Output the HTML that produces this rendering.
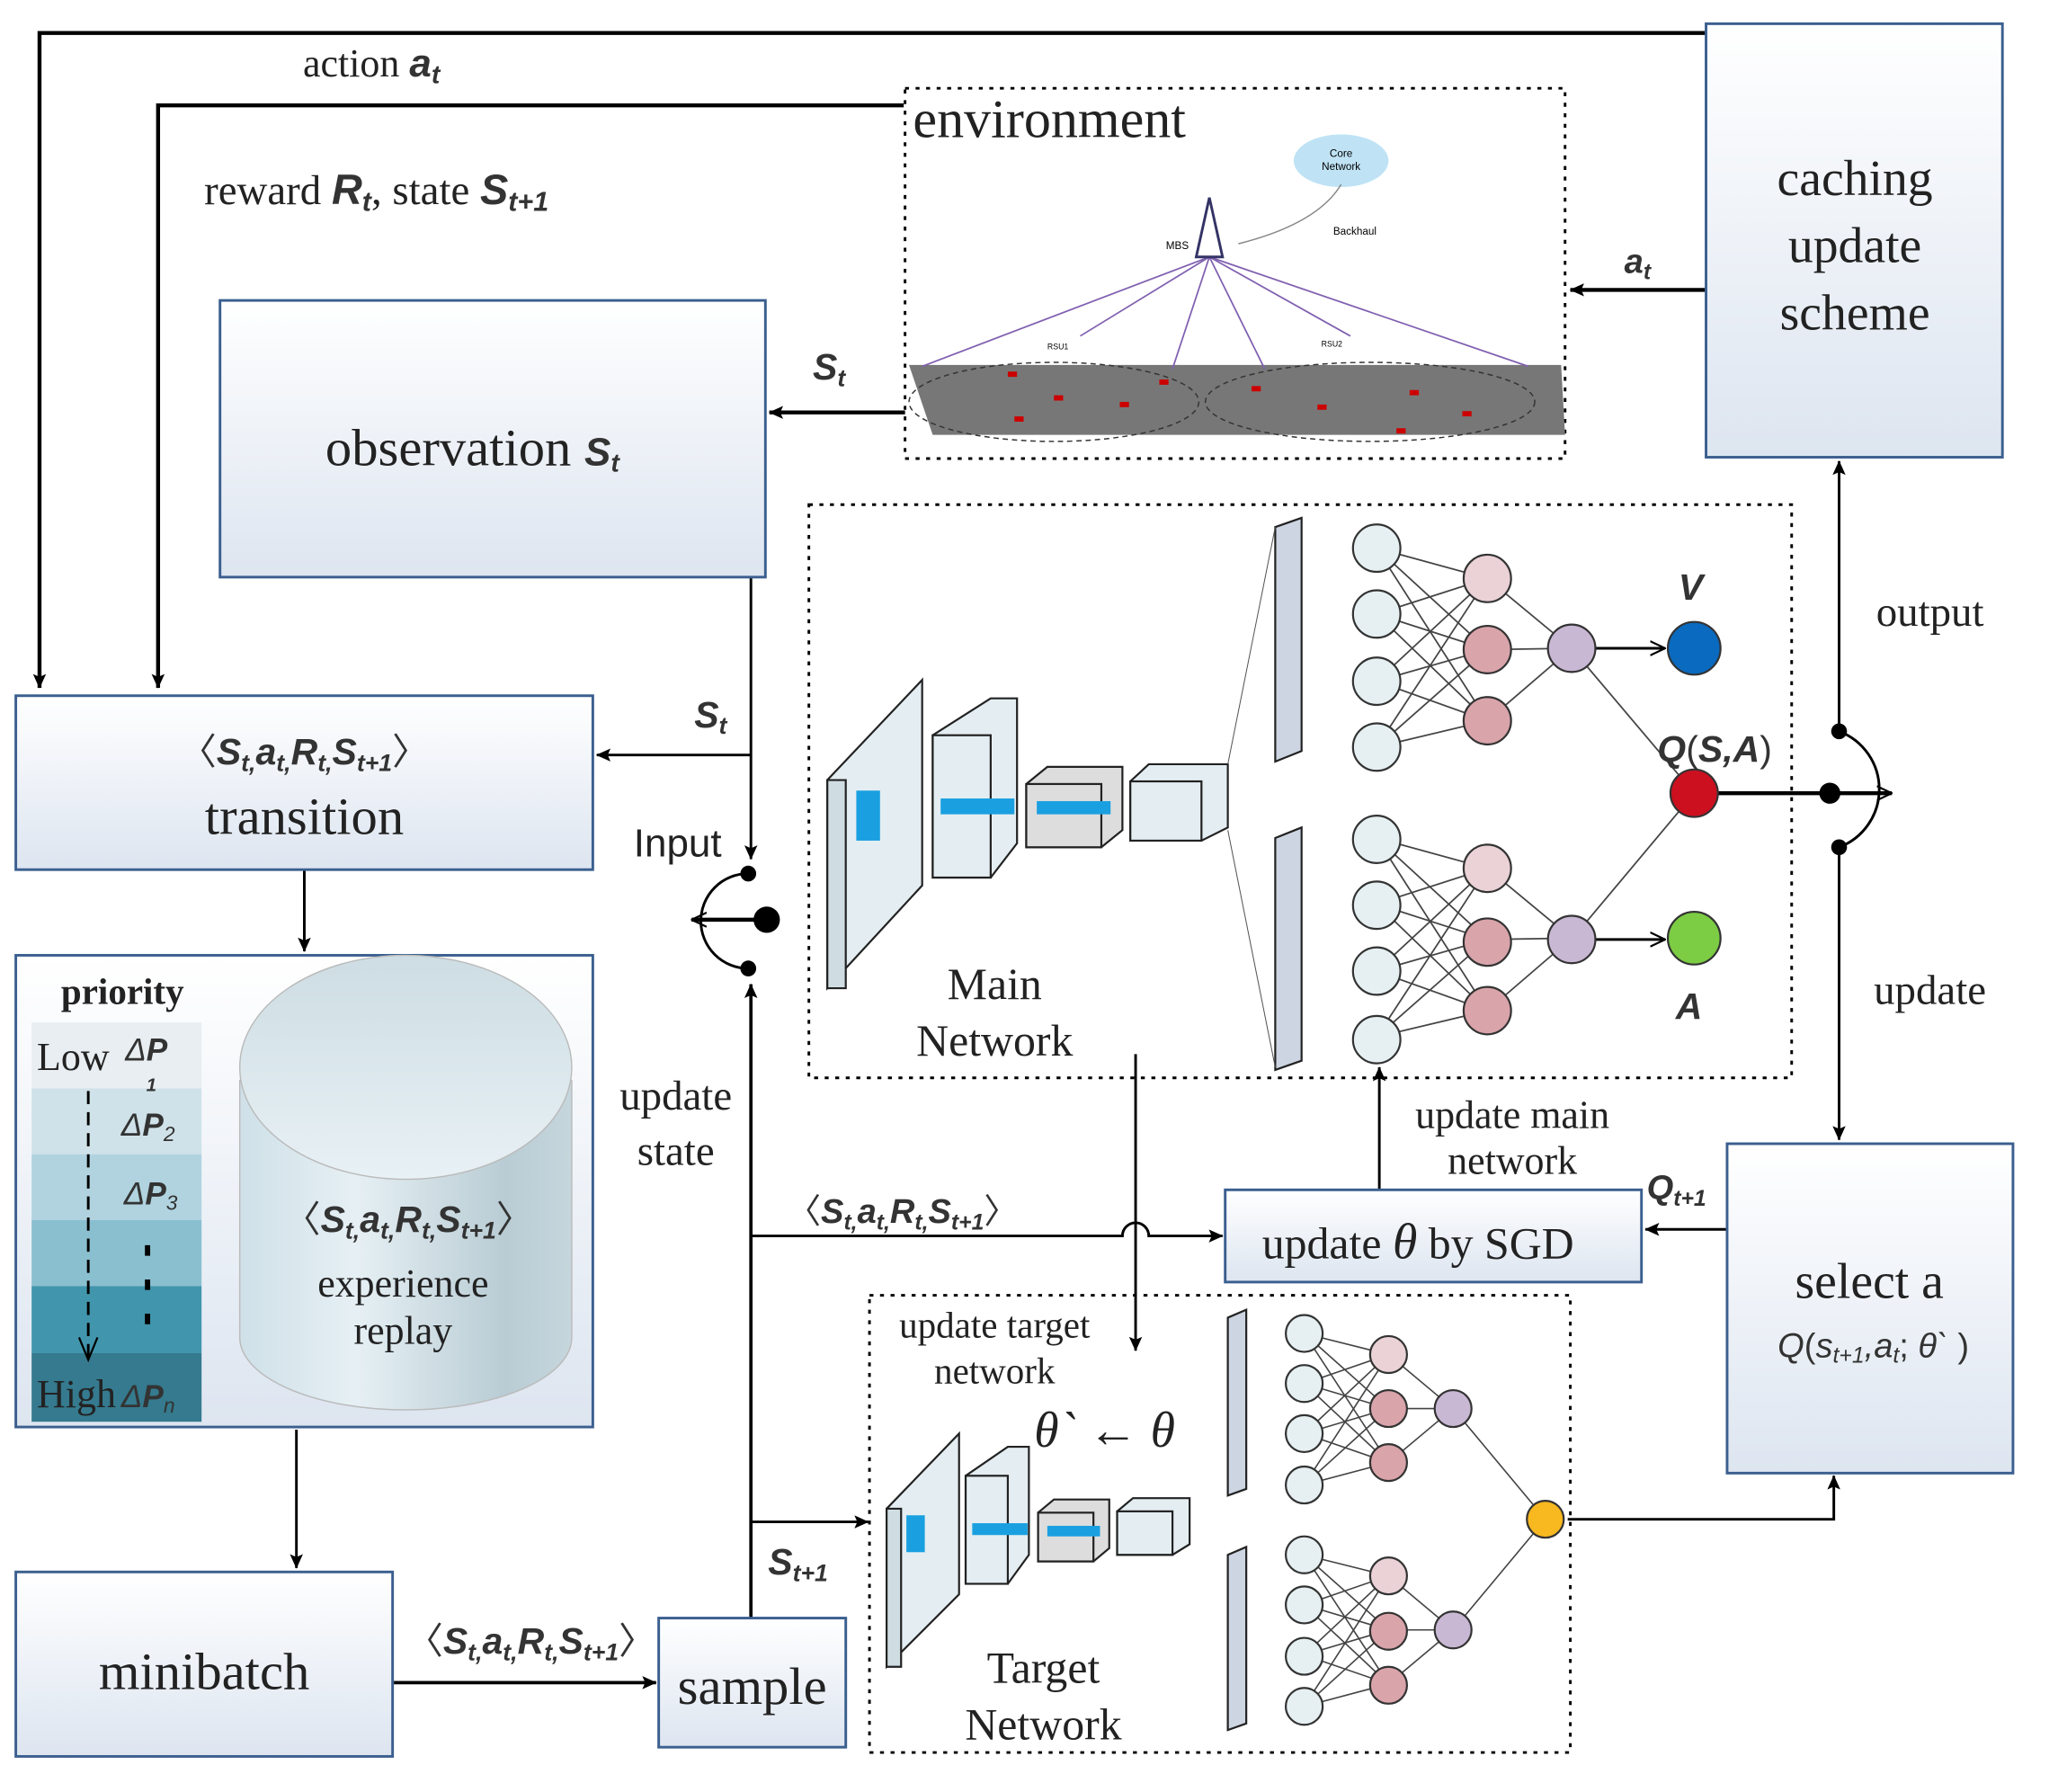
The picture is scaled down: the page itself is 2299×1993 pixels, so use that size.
<!DOCTYPE html>
<html><head><meta charset="utf-8"><style>
html,body{margin:0;padding:0;background:#fff}
svg{display:block}
.s{font-family:"Liberation Serif",serif;fill:#222}
.m{font-family:"Liberation Sans",sans-serif;font-style:italic;font-weight:bold;fill:#333}
.sub{font-size:0.65em}
</style></head><body>
<svg width="2299" height="1993" viewBox="0 0 1569 1360" preserveAspectRatio="none" xmlns="http://www.w3.org/2000/svg">
<defs>
<marker id="a" viewBox="0 0 20 20" refX="19" refY="10" markerWidth="11" markerHeight="11" orient="auto-start-reverse" markerUnits="userSpaceOnUse"><path d="M0,1 L20,10 L0,19 L4,10 Z" fill="#000"/></marker>
<marker id="o" viewBox="0 0 20 20" refX="19" refY="10" markerWidth="12" markerHeight="12" orient="auto-start-reverse" markerUnits="userSpaceOnUse"><path d="M0,1 L19,10 L0,19" fill="none" stroke="#000" stroke-width="2.5"/></marker>
<linearGradient id="bx" x1="0" y1="0" x2="0" y2="1"><stop offset="0" stop-color="#ffffff"/><stop offset="1" stop-color="#dde5f0"/></linearGradient>
<linearGradient id="cy" x1="0" y1="0" x2="1" y2="0"><stop offset="0" stop-color="#cfe0e8"/><stop offset="0.35" stop-color="#e6f0f4"/><stop offset="0.8" stop-color="#b9ccd4"/><stop offset="1" stop-color="#c6d6dd"/></linearGradient>
<linearGradient id="cyt" x1="0" y1="0" x2="0" y2="1"><stop offset="0" stop-color="#cddde3"/><stop offset="1" stop-color="#e8f1f5"/></linearGradient>
</defs>
<g stroke="#000" stroke-width="3" fill="none">
<polyline points="1295,25 30,25 30,522" marker-end="url(#a)"/>
<polyline points="686,80 120,80 120,522" marker-end="url(#a)"/>
<line x1="1295" y1="220" x2="1192" y2="220" marker-end="url(#a)"/>
<line x1="687" y1="313" x2="584" y2="313" marker-end="url(#a)"/>
<polyline points="570,438 570,652" stroke-width="2" marker-end="url(#a)"/>
<line x1="570" y1="573" x2="453" y2="573" stroke-width="2" marker-end="url(#a)"/>
<line x1="231" y1="660" x2="231" y2="722" stroke-width="2" marker-end="url(#a)"/>
<line x1="225" y1="1085" x2="225" y2="1190" stroke-width="2" marker-end="url(#a)"/>
<line x1="299" y1="1277" x2="498" y2="1277" stroke-width="2.5" marker-end="url(#a)"/>
<line x1="570" y1="1228" x2="570" y2="747" stroke-width="2.5" marker-end="url(#a)"/>
<path d="M570,938 L852,938 A10,10 0 0 1 872,938 L928,938" stroke-width="2" marker-end="url(#a)"/>
<line x1="570" y1="1155" x2="659" y2="1155" stroke-width="2" marker-end="url(#a)"/>
<line x1="862" y1="800" x2="862" y2="1025" stroke-width="2" marker-end="url(#a)"/>
<line x1="1047" y1="903" x2="1047" y2="810" stroke-width="2" marker-end="url(#a)"/>
<line x1="1311" y1="933" x2="1249" y2="933" stroke-width="2" marker-end="url(#a)"/>
<polyline points="1190,1153 1392,1153 1392,1120" stroke-width="2" marker-end="url(#a)"/>
<line x1="1396" y1="555" x2="1396" y2="350" stroke-width="2" marker-end="url(#a)"/>
<line x1="1396" y1="643" x2="1396" y2="865" stroke-width="2" marker-end="url(#a)"/>
<line x1="1286" y1="602" x2="1436" y2="602" stroke-width="3" marker-end="url(#o)"/>
<path d="M1396,555 A47,47 0 0 1 1396,643" stroke-width="2"/>
<line x1="525" y1="698" x2="582" y2="698" stroke-width="3" marker-start="url(#o)"/>
<path d="M568,663 A36,36 0 0 0 568,735" stroke-width="2"/>
<line x1="153" y1="920" x2="182" y2="920" stroke-width="3"/>
</g>
<g fill="#000">
<circle cx="568" cy="663" r="6"/><circle cx="568" cy="735" r="6"/><circle cx="582" cy="698" r="10"/>
<circle cx="1396" cy="555" r="6"/><circle cx="1396" cy="643" r="6"/><circle cx="1389" cy="602" r="8"/>
</g>
<g stroke="#3b5f8f" stroke-width="2" fill="url(#bx)">
<rect x="1295" y="18" width="225" height="329"/>
<rect x="167" y="228" width="414" height="210"/>
<rect x="12" y="528" width="438" height="132"/>
<rect x="12" y="725" width="438" height="358"/>
<rect x="12" y="1193" width="286" height="140"/>
<rect x="500" y="1228" width="142" height="98"/>
<rect x="930" y="903" width="316" height="70"/>
<rect x="1311" y="868" width="217" height="250"/>
</g>
<g stroke="#000" stroke-width="2" fill="none" stroke-dasharray="3,5">
<rect x="687" y="67" width="501" height="281"/>
<rect x="614" y="383" width="746" height="435"/>
<rect x="660" y="983" width="532" height="347"/>
</g>
<polygon points="690,277 1185,277 1188,330 708,330" fill="#777"/>
<ellipse cx="800" cy="305" rx="110" ry="30" fill="none" stroke="#333" stroke-dasharray="4,3"/>
<ellipse cx="1040" cy="305" rx="125" ry="30" fill="none" stroke="#333" stroke-dasharray="4,3"/>
<g stroke="#8060b0" stroke-width="1.2">
<line x1="918" y1="195" x2="700" y2="278"/><line x1="918" y1="195" x2="1160" y2="278"/>
<line x1="918" y1="195" x2="820" y2="255"/><line x1="918" y1="195" x2="1025" y2="255"/>
<line x1="918" y1="195" x2="890" y2="280"/><line x1="918" y1="195" x2="960" y2="280"/>
</g>
<path d="M918,150 L908,195 L928,195 Z" fill="none" stroke="#336" stroke-width="2"/>
<ellipse cx="1018" cy="122" rx="36" ry="20" fill="#bfe3f5"/>
<path d="M1018,140 Q1000,170 940,185" fill="none" stroke="#888"/>
<text x="1018" y="119" font-size="8" text-anchor="middle" font-family="Liberation Sans">Core</text>
<text x="1018" y="129" font-size="8" text-anchor="middle" font-family="Liberation Sans">Network</text>
<text x="1012" y="178" font-size="8" font-family="Liberation Sans">Backhaul</text>
<text x="885" y="189" font-size="8" font-family="Liberation Sans">MBS</text>
<text x="795" y="265" font-size="6" font-family="Liberation Sans">RSU1</text>
<text x="1003" y="263" font-size="6" font-family="Liberation Sans">RSU2</text>
<g fill="#c00"><rect x="765" y="282" width="7" height="4"/><rect x="800" y="300" width="7" height="4"/><rect x="770" y="316" width="7" height="4"/><rect x="850" y="305" width="7" height="4"/><rect x="950" y="293" width="7" height="4"/><rect x="1000" y="307" width="7" height="4"/><rect x="1070" y="296" width="7" height="4"/><rect x="1060" y="325" width="7" height="4"/><rect x="1110" y="312" width="7" height="4"/><rect x="880" y="288" width="7" height="4"/></g>
<rect x="24" y="776" width="129" height="50" fill="#e8eef1"/>
<rect x="24" y="826" width="129" height="50" fill="#d0e2e9"/>
<rect x="24" y="876" width="129" height="50" fill="#b0d3df"/>
<rect x="24" y="926" width="129" height="50" fill="#8abfd0"/>
<rect x="24" y="976" width="129" height="51" fill="#4196ad"/>
<rect x="24" y="1027" width="129" height="52" fill="#357a8e"/>
<line x1="67" y1="828" x2="67" y2="1030" stroke="#000" stroke-width="2" stroke-dasharray="10,6"/>
<polyline points="60,1015 67,1032 74,1015" fill="none" stroke="#000" stroke-width="1.5"/>
<line x1="112" y1="945" x2="112" y2="1010" stroke="#000" stroke-width="4" stroke-dasharray="8,18"/>
<path d="M182,820 L182,1015 A126,55 0 0 0 434,1015 L434,820 Z" fill="url(#cy)" stroke="#bbb"/>
<ellipse cx="308" cy="810" rx="126" ry="85" fill="url(#cyt)" stroke="#bbb"/>
<g stroke="#222" stroke-width="1.5" fill="#e4eef2">
<polygon points="628,592 700,516 700,672 628,750"/><polygon points="628,592 642,592 642,750 628,750" fill="#cfdde3"/>
<polygon points="708,558 752,530 772,530 772,640 752,666 708,666" /><rect x="708" y="558" width="44" height="108"/>
<polygon points="779,595 795,582 852,582 852,630 836,643 779,643" fill="#ddd"/><rect x="779" y="595" width="57" height="48" fill="#ddd"/>
<polygon points="858,593 872,580 932,580 932,628 912,638 858,638"/><rect x="858" y="593" width="54" height="45"/>
<polygon points="968,400 988,393 988,570 968,578" fill="#cdd5e2"/><polygon points="968,636 988,628 988,805 968,812" fill="#cdd5e2"/>
</g>
<rect x="650" y="600" width="18" height="38" fill="#1aa0e0"/><rect x="714" y="606" width="56" height="12" fill="#1aa0e0"/><rect x="787" y="608" width="56" height="10" fill="#1aa0e0"/>
<g stroke="#555" stroke-width="0.7"><line x1="932" y1="580" x2="968" y2="400"/><line x1="932" y1="630" x2="968" y2="810"/></g>
<g stroke="#444" stroke-width="1.2">
<g id="mc">
<line x1="1045" y1="416" x2="1129" y2="439"/><line x1="1045" y1="416" x2="1129" y2="493"/><line x1="1045" y1="416" x2="1129" y2="547"/>
<line x1="1045" y1="466" x2="1129" y2="439"/><line x1="1045" y1="466" x2="1129" y2="493"/><line x1="1045" y1="466" x2="1129" y2="547"/>
<line x1="1045" y1="517" x2="1129" y2="439"/><line x1="1045" y1="517" x2="1129" y2="493"/><line x1="1045" y1="517" x2="1129" y2="547"/>
<line x1="1045" y1="567" x2="1129" y2="439"/><line x1="1045" y1="567" x2="1129" y2="493"/><line x1="1045" y1="567" x2="1129" y2="547"/>
<line x1="1129" y1="439" x2="1193" y2="492"/><line x1="1129" y1="493" x2="1193" y2="492"/><line x1="1129" y1="547" x2="1193" y2="492"/>
</g>
<use href="#mc" transform="translate(0,220)"/>
<line x1="1193" y1="492" x2="1286" y2="602"/><line x1="1193" y1="713" x2="1286" y2="602"/>
</g>
<g stroke="#000" stroke-width="2" fill="none"><line x1="1211" y1="492" x2="1264" y2="492" marker-end="url(#o)"/><line x1="1211" y1="713" x2="1264" y2="713" marker-end="url(#o)"/></g>
<g stroke="#333" stroke-width="1.5">
<g fill="#e6f0f2"><circle cx="1045" cy="416" r="18"/><circle cx="1045" cy="466" r="18"/><circle cx="1045" cy="517" r="18"/><circle cx="1045" cy="567" r="18"/><circle cx="1045" cy="637" r="18"/><circle cx="1045" cy="687" r="18"/><circle cx="1045" cy="737" r="18"/><circle cx="1045" cy="789" r="18"/></g>
<circle cx="1129" cy="439" r="18" fill="#ead2d6"/><circle cx="1129" cy="493" r="18" fill="#d9a4aa"/><circle cx="1129" cy="547" r="18" fill="#d9a4aa"/>
<circle cx="1129" cy="659" r="18" fill="#ead2d6"/><circle cx="1129" cy="715" r="18" fill="#d9a4aa"/><circle cx="1129" cy="767" r="18" fill="#d9a4aa"/>
<circle cx="1193" cy="492" r="18" fill="#c9b8d4"/><circle cx="1193" cy="713" r="18" fill="#c9b8d4"/>
<circle cx="1286" cy="492" r="20" fill="#0a6abf"/><circle cx="1286" cy="712" r="20" fill="#7ccc44"/><circle cx="1286" cy="602" r="18" fill="#cc1020"/>
</g>
<g stroke="#222" stroke-width="1.5" fill="#e4eef2">
<polygon points="673,1145 728,1088 728,1210 673,1265"/><polygon points="673,1145 684,1145 684,1265 673,1265" fill="#cfdde3"/>
<polygon points="733,1120 765,1098 781,1098 781,1180 765,1202 733,1202"/><rect x="733" y="1120" width="32" height="82"/>
<polygon points="788,1148 800,1138 842,1138 842,1175 830,1185 788,1185" fill="#ddd"/><rect x="788" y="1148" width="42" height="37" fill="#ddd"/>
<polygon points="848,1147 860,1137 903,1137 903,1172 890,1180 848,1180"/><rect x="848" y="1147" width="42" height="33"/>
<polygon points="932,1000 946,994 946,1130 932,1135" fill="#cdd5e2"/><polygon points="932,1180 946,1174 946,1308 932,1313" fill="#cdd5e2"/>
</g>
<rect x="688" y="1150" width="14" height="28" fill="#1aa0e0"/><rect x="738" y="1156" width="42" height="9" fill="#1aa0e0"/><rect x="795" y="1158" width="40" height="8" fill="#1aa0e0"/>
<g stroke="#444" stroke-width="1.1">
<g id="tc">
<line x1="990" y1="1012" x2="1054" y2="1028"/><line x1="990" y1="1012" x2="1054" y2="1069"/><line x1="990" y1="1012" x2="1054" y2="1110"/>
<line x1="990" y1="1050" x2="1054" y2="1028"/><line x1="990" y1="1050" x2="1054" y2="1069"/><line x1="990" y1="1050" x2="1054" y2="1110"/>
<line x1="990" y1="1088" x2="1054" y2="1028"/><line x1="990" y1="1088" x2="1054" y2="1069"/><line x1="990" y1="1088" x2="1054" y2="1110"/>
<line x1="990" y1="1127" x2="1054" y2="1028"/><line x1="990" y1="1127" x2="1054" y2="1069"/><line x1="990" y1="1127" x2="1054" y2="1110"/>
<line x1="1054" y1="1028" x2="1103" y2="1069"/><line x1="1054" y1="1069" x2="1103" y2="1069"/><line x1="1054" y1="1110" x2="1103" y2="1069"/>
</g>
<use href="#tc" transform="translate(0,168)"/>
<line x1="1103" y1="1069" x2="1173" y2="1153"/><line x1="1103" y1="1237" x2="1173" y2="1153"/>
</g>
<g stroke="#333" stroke-width="1.5">
<g fill="#e6f0f2"><circle cx="990" cy="1012" r="14"/><circle cx="990" cy="1050" r="14"/><circle cx="990" cy="1088" r="14"/><circle cx="990" cy="1127" r="14"/><circle cx="990" cy="1180" r="14"/><circle cx="990" cy="1218" r="14"/><circle cx="990" cy="1257" r="14"/><circle cx="990" cy="1295" r="14"/></g>
<circle cx="1054" cy="1028" r="14" fill="#ead2d6"/><circle cx="1054" cy="1069" r="14" fill="#d9a4aa"/><circle cx="1054" cy="1110" r="14" fill="#d9a4aa"/>
<circle cx="1054" cy="1196" r="14" fill="#ead2d6"/><circle cx="1054" cy="1238" r="14" fill="#d9a4aa"/><circle cx="1054" cy="1279" r="14" fill="#d9a4aa"/>
<circle cx="1103" cy="1069" r="14" fill="#c9b8d4"/><circle cx="1103" cy="1237" r="14" fill="#c9b8d4"/>
<circle cx="1173" cy="1153" r="14" fill="#f7b820"/>
</g>
<text class="s" x="230" y="58" font-size="30">action <tspan class="m">a<tspan class="sub" dy="5">t</tspan></tspan></text>
<text class="s" x="155" y="155" font-size="32">reward <tspan class="m">R<tspan class="sub" dy="5">t</tspan></tspan><tspan dy="-5">,  state </tspan><tspan class="m">S<tspan class="sub" dy="5">t+1</tspan></tspan></text>
<text class="s" x="693" y="104" font-size="41">environment</text>
<text class="s" x="1408" y="148" font-size="38" text-anchor="middle">caching</text>
<text class="s" x="1408" y="199" font-size="38" text-anchor="middle">update</text>
<text class="s" x="1408" y="250" font-size="38" text-anchor="middle">scheme</text>
<text class="m" x="1233" y="207" font-size="26">a<tspan class="sub" dy="5">t</tspan></text>
<text class="m" x="617" y="288" font-size="28">S<tspan class="sub" dy="5">t</tspan></text>
<text class="s" x="247" y="353" font-size="40">observation  <tspan class="m" font-size="30">S<tspan class="sub" dy="5">t</tspan></tspan></text>
<text class="m" x="527" y="552" font-size="28">S<tspan class="sub" dy="5">t</tspan></text>
<text class="m" x="231" y="580" font-size="28" text-anchor="middle"><tspan font-weight="normal" font-style="normal">〈</tspan>S<tspan class="sub" dy="5">t,</tspan><tspan dy="-5">a</tspan><tspan class="sub" dy="5">t,</tspan><tspan dy="-5">R</tspan><tspan class="sub" dy="5">t,</tspan><tspan dy="-5">S</tspan><tspan class="sub" dy="5">t+1</tspan><tspan dy="-5" font-weight="normal" font-style="normal">〉</tspan></text>
<text class="s" x="231" y="633" font-size="40" text-anchor="middle">transition</text>
<text font-family="Liberation Sans,sans-serif" x="481" y="650" font-size="30" fill="#222">Input</text>
<text class="s" x="513" y="842" font-size="32" text-anchor="middle">update</text>
<text class="s" x="513" y="884" font-size="32" text-anchor="middle">state</text>
<text class="s" x="93" y="762" font-size="28" font-weight="bold" text-anchor="middle">priority</text>
<text class="s" x="28" y="812" font-size="30">Low</text>
<text class="m" x="95" y="805" font-size="24"><tspan font-weight="normal">Δ</tspan>P</text>
<text class="m" x="111" y="828" font-size="14">1</text>
<text class="m" x="92" y="862" font-size="24"><tspan font-weight="normal">Δ</tspan>P<tspan class="sub" dy="4" font-weight="normal">2</tspan></text>
<text class="m" x="94" y="914" font-size="24"><tspan font-weight="normal">Δ</tspan>P<tspan class="sub" dy="4" font-weight="normal">3</tspan></text>
<text class="s" x="28" y="1068" font-size="30" fill="#222">High</text>
<text class="m" x="92" y="1068" font-size="24"><tspan font-weight="normal">Δ</tspan>P<tspan class="sub" dy="4" font-weight="normal">n</tspan></text>
<text class="m" x="310" y="935" font-size="28" text-anchor="middle"><tspan font-weight="normal" font-style="normal">〈</tspan>S<tspan class="sub" dy="5">t,</tspan><tspan dy="-5">a</tspan><tspan class="sub" dy="5">t,</tspan><tspan dy="-5">R</tspan><tspan class="sub" dy="5">t,</tspan><tspan dy="-5">S</tspan><tspan class="sub" dy="5">t+1</tspan><tspan dy="-5" font-weight="normal" font-style="normal">〉</tspan></text>
<text class="s" x="306" y="984" font-size="30" text-anchor="middle">experience</text>
<text class="s" x="306" y="1020" font-size="30" text-anchor="middle">replay</text>
<text class="s" x="155" y="1282" font-size="40" text-anchor="middle">minibatch</text>
<text class="m" x="403" y="1255" font-size="28" text-anchor="middle"><tspan font-weight="normal" font-style="normal">〈</tspan>S<tspan class="sub" dy="5">t,</tspan><tspan dy="-5">a</tspan><tspan class="sub" dy="5">t,</tspan><tspan dy="-5">R</tspan><tspan class="sub" dy="5">t,</tspan><tspan dy="-5">S</tspan><tspan class="sub" dy="5">t+1</tspan><tspan dy="-5" font-weight="normal" font-style="normal">〉</tspan></text>
<text class="s" x="571" y="1293" font-size="40" text-anchor="middle">sample</text>
<text class="m" x="685" y="928" font-size="26" text-anchor="middle"><tspan font-weight="normal" font-style="normal">〈</tspan>S<tspan class="sub" dy="5">t,</tspan><tspan dy="-5">a</tspan><tspan class="sub" dy="5">t,</tspan><tspan dy="-5">R</tspan><tspan class="sub" dy="5">t,</tspan><tspan dy="-5">S</tspan><tspan class="sub" dy="5">t+1</tspan><tspan dy="-5" font-weight="normal" font-style="normal">〉</tspan></text>
<text class="m" x="583" y="1195" font-size="28">S<tspan class="sub" dy="5">t+1</tspan></text>
<text class="s" x="755" y="758" font-size="34" text-anchor="middle">Main</text>
<text class="s" x="755" y="801" font-size="34" text-anchor="middle">Network</text>
<text class="m" x="1274" y="455" font-size="28">V</text>
<text class="m" x="1272" y="773" font-size="28">A</text>
<text class="m" x="1258" y="578" font-size="28">Q<tspan font-weight="normal" font-style="normal">(</tspan>S,A<tspan font-weight="normal" font-style="normal">)</tspan></text>
<text class="s" x="1465" y="475" font-size="32" text-anchor="middle">output</text>
<text class="s" x="1465" y="762" font-size="32" text-anchor="middle">update</text>
<text class="s" x="1148" y="856" font-size="30" text-anchor="middle">update main</text>
<text class="s" x="1148" y="891" font-size="30" text-anchor="middle">network</text>
<text class="m" x="1250" y="910" font-size="26">Q<tspan class="sub" dy="5">t+1</tspan></text>
<text class="s" x="958" y="955" font-size="34">update <tspan font-style="italic" font-size="38">θ</tspan> by SGD</text>
<text class="s" x="1419" y="985" font-size="38" text-anchor="middle">select   a</text>
<text font-family="Liberation Sans,sans-serif" x="1422" y="1030" font-size="26" text-anchor="middle" fill="#333"><tspan font-style="italic">Q</tspan>(<tspan font-style="italic">s<tspan class="sub" dy="4">t+1</tspan><tspan dy="-4">,a</tspan><tspan class="sub" dy="4">t</tspan></tspan><tspan dy="-4">; </tspan><tspan font-style="italic">θ`</tspan> )</text>
<text class="s" x="755" y="1015" font-size="28" text-anchor="middle">update target</text>
<text class="s" x="755" y="1050" font-size="28" text-anchor="middle">network</text>
<text class="s" x="785" y="1098" font-size="38" font-style="italic">θ` ← θ</text>
<text class="s" x="792" y="1277" font-size="34" text-anchor="middle">Target</text>
<text class="s" x="792" y="1320" font-size="34" text-anchor="middle">Network</text>
</svg>
</body></html>
